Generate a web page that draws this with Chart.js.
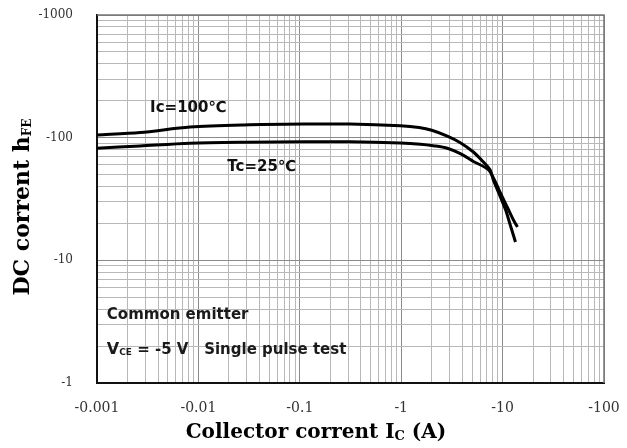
<!DOCTYPE html>
<html>
<head>
<meta charset="utf-8">
<script src="https://cdn.jsdelivr.net/npm/chart.js@4"></script>
<style>
  html, body { margin: 0; padding: 0; background: #fff; }
  #wrap { width: 627px; height: 448px; }
</style>
</head>
<body>
<div id="wrap"><canvas id="hfeChart" width="627" height="448"></canvas></div>
<script>
// axis decades + their printed labels
const xDecades = [0.001, 0.01, 0.1, 1, 10, 100];
const xTickLabels = ['-0.001', '-0.01', '-0.1', '-1', '-10', '-100'];
const yDecades = [1, 10, 100, 1000];
const yTickLabels = ['-1', '-10', '-100', '-1000'];

// Tc = 100 C curve (Ic in A, hFE)
const tc100Current = [0.001, 0.00266, 0.00828, 0.0282, 0.11, 0.31, 0.98, 1.5, 2.0, 2.85, 3.83, 5.15, 6.46, 7.5, 8.11, 9.51, 10.7, 11.9, 13.4];
const tc100Gain = [105, 110, 122, 127, 129, 129, 125, 121, 115, 103, 91, 76.4, 63.4, 55, 45.2, 32.9, 25.8, 19.4, 14.1];

// Tc = 25 C curve
const tc25Current = [0.001, 0.00266, 0.00828, 0.0282, 0.11, 0.31, 0.98, 1.55, 2.07, 2.85, 3.83, 5.15, 7.2, 8.49, 9.51, 11.1, 12.8, 14.0];
const tc25Gain = [82, 85.6, 90, 91.8, 92.7, 92.5, 90.5, 88.5, 86, 82, 74, 64, 55, 43.6, 35.4, 27.2, 21.3, 18.7];

function isDecade(v) {
  const l = Math.log10(v);
  return Math.abs(l - Math.round(l)) < 1e-6;
}

function logTicks(decades) {
  const out = [];
  decades.forEach((d, i) => {
    if (i === decades.length - 1) { out.push({value: d}); return; }
    for (let m = 1; m <= 9; m++) out.push({value: d * m});
  });
  return out;
}

function labelFor(decades, labels, v) {
  const i = decades.findIndex(d => Math.abs(d - v) / d < 1e-6);
  return i >= 0 ? labels[i] : '';
}

// draw text pieces one after another (for subscripts)
function drawRich(ctx, parts, x, y) {
  let cx = x;
  parts.forEach(p => {
    ctx.font = p.font;
    ctx.fillText(p.text, cx, y + (p.dy || 0));
    cx += ctx.measureText(p.text).width;
  });
  return cx - x;
}
function richWidth(ctx, parts) {
  let w = 0;
  parts.forEach(p => { ctx.font = p.font; w += ctx.measureText(p.text).width; });
  return w;
}

const frameAndText = {
  id: 'frameAndText',
  beforeDatasetsDraw(chart) {
    const {ctx, chartArea: a} = chart;
    ctx.save();
    ctx.strokeStyle = '#777';
    ctx.lineWidth = 1.5;
    ctx.beginPath();
    ctx.moveTo(a.left, a.top);
    ctx.lineTo(a.right, a.top);
    ctx.lineTo(a.right, a.bottom);
    ctx.stroke();
    ctx.restore();
  },
  afterDraw(chart) {
    const {ctx} = chart;
    const xs = chart.scales.x, ys = chart.scales.y;
    ctx.save();
    ctx.fillStyle = '#111';
    ctx.textBaseline = 'middle';
    ctx.textAlign = 'left';

    // curve labels
    ctx.font = 'bold 15px "DejaVu Sans"';
    ctx.fillText('Ic=100\u2103', xs.getPixelForValue(0.00334), ys.getPixelForValue(175));
    ctx.fillText('Tc=25\u2103', xs.getPixelForValue(0.0193), ys.getPixelForValue(57.7));

    // conditions
    ctx.fillStyle = '#1a1a1a';
    ctx.font = 'bold 15px "DejaVu Sans"';
    ctx.fillText('Common emitter', xs.getPixelForValue(0.00125), ys.getPixelForValue(3.6));
    drawRich(ctx, [
      {text: 'V', font: 'bold 16px "DejaVu Sans"'},
      {text: 'CE', font: 'bold 9px "DejaVu Sans"', dy: 3},
      {text: ' = -5 V   Single pulse test', font: 'bold 15px "DejaVu Sans"'}
    ], xs.getPixelForValue(0.00125), ys.getPixelForValue(1.86));

    // x title
    ctx.fillStyle = '#000';
    const xParts = [
      {text: 'Collector corrent I', font: 'bold 20px "DejaVu Serif"'},
      {text: 'C', font: 'bold 13px "DejaVu Serif"', dy: 4},
      {text: ' (A)', font: 'bold 20px "DejaVu Serif"'}
    ];
    const xw = richWidth(ctx, xParts);
    drawRich(ctx, xParts, 316 - xw / 2, 433);

    // y title, rotated
    const yParts = [
      {text: 'DC corrent h', font: 'bold 22px "DejaVu Serif"'},
      {text: 'FE', font: 'bold 12px "DejaVu Serif"', dy: 5}
    ];
    const yw = richWidth(ctx, yParts);
    ctx.translate(23, 207);
    ctx.rotate(-Math.PI / 2);
    drawRich(ctx, yParts, -yw / 2, 0);
    ctx.restore();
  }
};

const ctx = document.getElementById('hfeChart').getContext('2d');
new Chart(ctx, {
  type: 'scatter',
  data: {
    datasets: [
      {
        label: 'Tc=100',
        data: tc100Current.map((x, i) => ({x: x, y: tc100Gain[i]})),
        showLine: true, borderColor: '#000', borderWidth: 3,
        pointRadius: 0, tension: 0.3
      },
      {
        label: 'Tc=25',
        data: tc25Current.map((x, i) => ({x: x, y: tc25Gain[i]})),
        showLine: true, borderColor: '#000', borderWidth: 3,
        pointRadius: 0, tension: 0.3
      }
    ]
  },
  options: {
    responsive: false,
    animation: false,
    layout: {padding: {left: 0, top: 15, right: 23, bottom: 0}},
    plugins: {legend: {display: false}, tooltip: {enabled: false}},
    scales: {
      x: {
        type: 'logarithmic',
        min: 0.001, max: 100,
        afterBuildTicks: s => { s.ticks = logTicks(xDecades); },
        afterFit: s => { s.height = 65; s.paddingLeft = 0; s.paddingRight = 0; },
        grid: {
          drawTicks: false,
          color: c => isDecade(c.tick.value) ? '#8a8a8a' : '#b8b8b8',
          lineWidth: 1
        },
        border: {display: true, color: '#111', width: 2},
        ticks: {
          autoSkip: false, maxRotation: 0, padding: 17,
          color: '#333',
          font: {family: '"DejaVu Serif"', size: 14},
          callback: v => labelFor(xDecades, xTickLabels, v)
        }
      },
      y: {
        type: 'logarithmic',
        min: 1, max: 1000,
        afterBuildTicks: s => { s.ticks = logTicks(yDecades); },
        afterFit: s => { s.width = 97; s.paddingTop = 0; s.paddingBottom = 0; },
        grid: {
          drawTicks: false,
          color: c => isDecade(c.tick.value) ? '#8a8a8a' : '#b8b8b8',
          lineWidth: 1
        },
        border: {display: true, color: '#111', width: 2},
        ticks: {
          autoSkip: false, padding: 24,
          color: '#333',
          font: {family: '"DejaVu Serif"', size: 12},
          callback: v => labelFor(yDecades, yTickLabels, v)
        }
      }
    }
  },
  plugins: [frameAndText]
});
</script>
</body>
</html>
